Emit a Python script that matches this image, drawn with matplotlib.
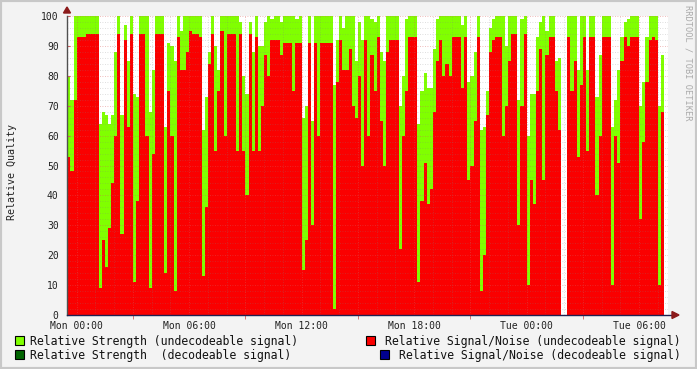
import numpy as np
import matplotlib
matplotlib.use("Agg")
from matplotlib import pyplot as plt
from matplotlib.patches import Rectangle, Polygon

nan = np.nan

# 10-minute samples, starting Sun 23:30 (hours relative to Mon 00:00)
t_start = -0.5
t_step = 1 / 6

# Relative Strength (undecodeable signal)
strength = [
    80, 72, 100, 100, 100, 100, 100, 100, 100, 100,
    64, 68, 67, 64, 67, 88, 100, 67, 97, 85,
    100, 74, 73, 100, 100, 100, 68, 82, 100, 100,
    100, 63, 91, 90, 85, 100, 95, 100, 100, 100,
    100, 100, 100, 62, 73, 88, 100, 90, 82, 100,
    100, 100, 100, 100, 100, 98, 80, 74, 98, 88,
    100, 90, 90, 98, 100, 99, 100, 100, 98, 100,
    100, 100, 100, 99, 100, 66, 70, 100, 65, 100,
    100, 100, 100, 100, 100, 77, 92, 100, 96, 100,
    100, 100, 85, 98, 92, 100, 100, 99, 98, 100,
    88, 85, 100, 100, 100, 100, 70, 80, 99, 100,
    100, 100, 64, 75, 81, 76, 76, 89, 99, 100,
    100, 100, 100, 100, 100, 100, 97, 100, 78, 80,
    88, 100, 62, 63, 75, 96, 99, 100, 100, 100,
    90, 100, 100, 100, 72, 99, 100, 60, 74, 74,
    93, 98, 100, 95, 100, 100, 85, 86, 100, nan,
    100, 100, 100, 82, 100, 100, 82, 100, 100, 73,
    87, 100, 100, 100, 63, 72, 82, 93, 98, 99,
    100, 100, 100, 70, 78, 93, 100, 100, 100, 70,
    87,
]

# Relative Signal/Noise (undecodeable signal)
snr = [
    53, 48, 72, 93, 93, 93, 94, 94, 94, 94,
    9, 25, 16, 29, 44, 60, 94, 27, 92, 63,
    94, 11, 38, 94, 94, 60, 9, 54, 94, 94,
    94, 14, 75, 60, 8, 93, 82, 82, 88, 95,
    94, 94, 93, 13, 36, 84, 94, 55, 75, 95,
    60, 94, 94, 94, 55, 94, 55, 40, 94, 55,
    93, 55, 70, 87, 80, 92, 92, 92, 87, 91,
    91, 91, 75, 91, 91, 15, 25, 91, 30, 91,
    60, 91, 91, 91, 91, 2, 78, 92, 82, 82,
    89, 70, 66, 80, 50, 92, 60, 87, 75, 93,
    65, 50, 88, 92, 92, 92, 22, 60, 75, 93,
    93, 93, 11, 38, 51, 37, 42, 68, 85, 92,
    80, 84, 80, 93, 93, 93, 76, 93, 45, 50,
    65, 93, 8, 20, 67, 88, 92, 93, 93, 60,
    70, 85, 94, 94, 30, 70, 94, 10, 45, 37,
    75, 89, 45, 87, 93, 93, 75, 62, 93, nan,
    93, 75, 85, 53, 77, 93, 55, 93, 93, 40,
    60, 93, 93, 93, 10, 60, 51, 85, 93, 90,
    93, 93, 93, 32, 58, 78, 92, 93, 92, 10,
    68,
]

tick_hours = [0, 6, 12, 18, 24, 30]
tick_labels = ["Mon 00:00", "Mon 06:00", "Mon 12:00", "Mon 18:00", "Tue 00:00", "Tue 06:00"]

legend_left = ["Relative Strength (undecodeable signal)", "Relative Strength  (decodeable signal)"]
legend_right = ["Relative Signal/Noise (undecodeable signal)", "Relative Signal/Noise (decodeable signal)"]

LIME = "#80ff00"
RED = "#fa0000"
DKGREEN = "#006400"
NAVY = "#000090"
BG = "#f3f3f3"

plt.rcParams['font.family'] = ['DejaVu Sans Mono']

W, H = 697, 369
fig = plt.figure(figsize=(W / 100, H / 100), dpi=100, facecolor=BG)

def fx(px):
    return px / W

def fy(py):
    return 1 - py / H

# plot area: x 67..668, y 16..315
ax = fig.add_axes([fx(67), fy(315), fx(668 - 67), (315 - 16) / H])
ax.set_facecolor("white")

strength = np.array(strength, dtype=float)
snr = np.array(snr, dtype=float)
edges = t_start + t_step * np.arange(len(strength) + 1)

ax.fill_between(edges, np.append(strength, strength[-1]), step="post",
                color=LIME, lw=0, antialiased=False, zorder=1)
ax.fill_between(edges, np.append(snr, snr[-1]), step="post",
                color=RED, lw=0, antialiased=False, zorder=2)

x0 = (67 - 76.7) / 18.75
x1 = (668 - 76.7) / 18.75
ax.set_xlim(x0, x1)
ax.set_ylim(0, 100)

# grid drawn on top, rrdtool style
for y in range(2, 101, 2):
    if y % 10 == 0:
        ax.axhline(y, color=(0.85, 0.35, 0.35, 0.55), lw=0.6, ls=(0, (1, 2)), zorder=3)
    else:
        ax.axhline(y, color=(0.5, 0.5, 0.5, 0.35), lw=0.6, ls=(0, (1, 2)), zorder=3)
for h in range(0, 32):
    if h % 3 == 0:
        ax.axvline(h, color=(0.85, 0.35, 0.35, 0.55), lw=0.6, ls=(0, (1, 2)), zorder=3)
    else:
        ax.axvline(h, color=(0.5, 0.5, 0.5, 0.35), lw=0.6, ls=(0, (1, 2)), zorder=3)

for s in ax.spines.values():
    s.set_visible(False)

ax.set_yticks(range(0, 101, 10))
ax.set_xticks(tick_hours)
ax.set_xticklabels(tick_labels)
ax.set_xticks(range(0, 32, 3), minor=True)
ax.tick_params(axis="both", which="both", labelsize=7, colors="#222222", pad=3)
ax.tick_params(axis="x", which="major", length=0, pad=4)
ax.tick_params(axis="x", which="minor", length=3, direction="out", color="#d06060")
ax.tick_params(axis="y", which="major", length=2, direction="in", color="#d06060", pad=6)

# axes lines with arrows
ax.plot([x0, x0], [0, 100], color="#505050", lw=1, clip_on=False, zorder=5)
ax.plot([x0, (676 - 76.7) / 18.75], [0, 0], color="#202050", lw=1, clip_on=False, zorder=5)
fig.patches.append(Polygon([[fx(63.5), fy(13)], [fx(70.5), fy(13)], [fx(67), fy(7)]],
                           closed=True, color="#8b1a1a", transform=fig.transFigure))
fig.patches.append(Polygon([[fx(672), fy(311.5)], [fx(672), fy(318.5)], [fx(679), fy(315)]],
                           closed=True, color="#8b1a1a", transform=fig.transFigure))

fig.text(fx(12), fy(172), "Relative Quality", rotation=90, fontsize=7.2,
         ha="center", va="center", color="#222222")
fig.text(fx(688), fy(5), "RRDTOOL / TOBI OETIKER", rotation=270, fontsize=6.2,
         ha="center", va="top", color="#aaaaaa")

# legend
def box(px, py, color):
    fig.patches.append(Rectangle((fx(px), fy(py + 9)), 9 / W, 9 / H, facecolor=color,
                                 edgecolor="black", lw=0.8, transform=fig.transFigure))

box(15, 336, LIME)
box(15, 350, DKGREEN)
box(366, 336, RED)
box(380, 350, NAVY)
fig.text(fx(30), fy(341), legend_left[0], fontsize=8.3, va="center", ha="left", color="#111111")
fig.text(fx(30), fy(355), legend_left[1], fontsize=8.3, va="center", ha="left", color="#111111")
fig.text(fx(681), fy(341), legend_right[0], fontsize=8.3, va="center", ha="right", color="#111111")
fig.text(fx(681), fy(355), legend_right[1], fontsize=8.3, va="center", ha="right", color="#111111")

# outer frame
fig.patches.append(Rectangle((0, 0), 1, 1, fill=False, edgecolor="#c8c8c8", lw=3,
                             transform=fig.transFigure))

fig.savefig("out.png", dpi=100, facecolor=BG)
